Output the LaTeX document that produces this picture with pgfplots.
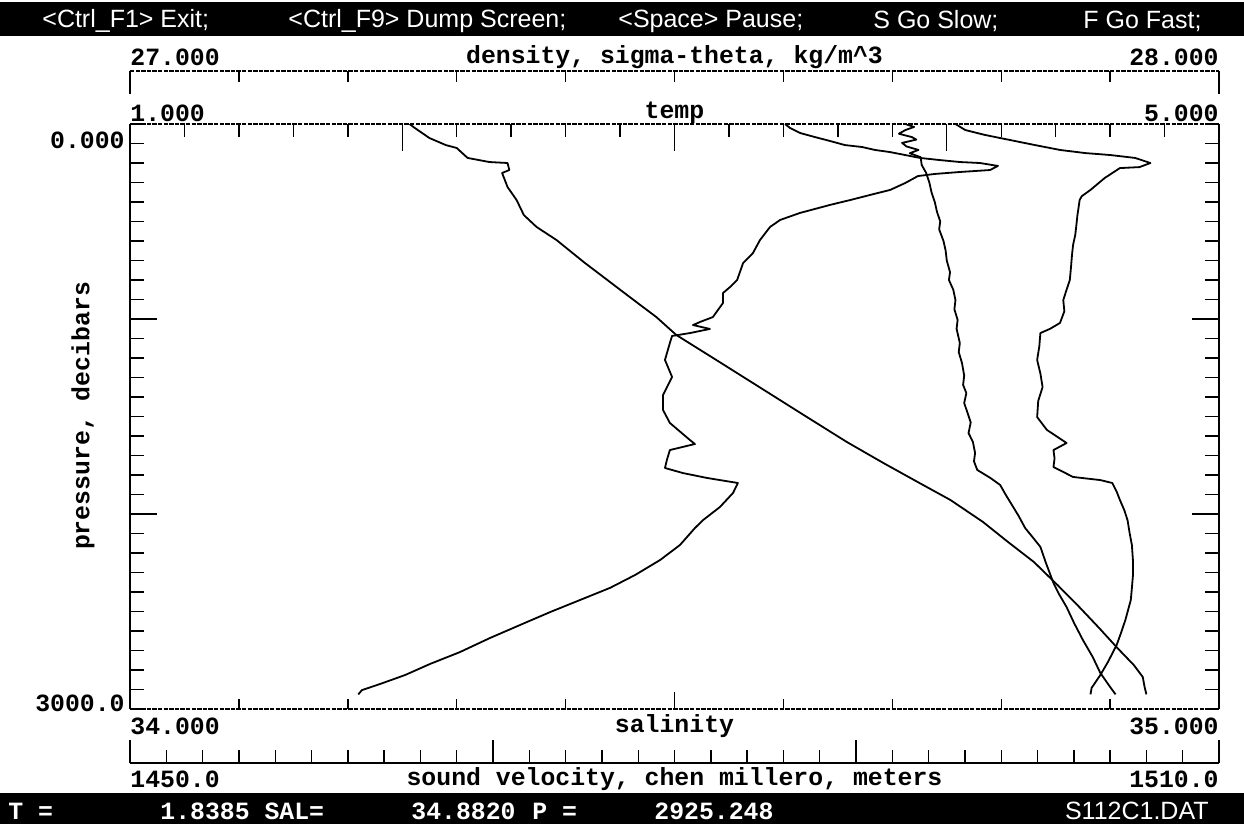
\documentclass[border=0pt]{standalone}
\usepackage{fontspec}
\setmainfont{Liberation Sans}
\newfontfamily\mono{Liberation Mono}
\usepackage{pgfplots}
\pgfplotsset{compat=1.18}
\newcommand\lab{\mono\bfseries\fontsize{12.4pt}{12.4pt}\selectfont}
\newcommand\barfont{\fontsize{12.5pt}{12.5pt}\selectfont}
\pgfplotsset{
  frame/.style={at={(337.25pt,-208.25pt)}, anchor=center, scale only axis,
    width=544.5pt, height=292.5pt, ymin=0, ymax=3000, y dir=reverse,
    tick align=inside, tick style={line width=0.7pt,black},
    axis line style={line width=0.7pt,black}},
  dotline/.style={axis line style={line width=0.6pt,black,dash pattern=on 2.2pt off 0.6pt}},
  curve/.style={black, line width=0.9pt, line join=round, mark=none},
  ptick/.style={ytick={0,100,...,3000}, yticklabels={}, major tick length=7pt,
    extra y ticks={1000,2000}, extra y tick labels={},
    extra y tick style={major tick length=13.5pt}}
}
\begin{document}
\begin{tikzpicture}
\fill[white] (0,0) rectangle (622pt,-412pt);
\fill[black] (0,-1pt) rectangle (622pt,-18pt);
\fill[black] (0,-396.5pt) rectangle (622pt,-412pt);

% pressure axis, left and right
\begin{axis}[frame, xmin=0, xmax=1, axis y line*=left, hide x axis, tick align=inside, ptick]
\end{axis}
\begin{axis}[frame, xmin=0, xmax=1, axis y line*=right, hide x axis, tick align=inside, ptick]
\end{axis}

% salinity
\begin{axis}[frame, dotline, xmin=34, xmax=35, axis x line*=bottom, hide y axis,
  tick align=inside,
  xtick={34.1,34.2,34.3,34.4,34.6,34.7,34.8,34.9}, xticklabels={},
  major tick length=5pt,
  extra x ticks={34.5}, extra x tick labels={},
  extra x tick style={major tick length=8.5pt}]
\addplot[curve] coordinates {
(34.758,0) (34.767,31) (34.785,56) (34.808,82) (34.831,108) (34.854,133)
(34.877,149) (34.900,159) (34.923,174) (34.937,200) (34.927,221) (34.909,226)
(34.895,277) (34.882,338) (34.874,370) (34.872,390) (34.871,430) (34.870,467)
(34.869,520) (34.868,569) (34.866,620) (34.865,672) (34.864,740) (34.863,800)
(34.860,850) (34.857,903) (34.858,960) (34.854,1020) (34.845,1050) (34.836,1072)
(34.835,1140) (34.833,1210) (34.836,1280) (34.838,1349) (34.834,1420) (34.833,1503)
(34.842,1569) (34.860,1636) (34.848,1672) (34.849,1715) (34.848,1759) (34.866,1810)
(34.891,1826) (34.902,1841) (34.906,1885) (34.909,1928) (34.913,1980) (34.916,2031)
(34.918,2100) (34.920,2159) (34.921,2240) (34.921,2313) (34.920,2380) (34.919,2441)
(34.914,2544) (34.910,2610) (34.906,2672) (34.898,2759) (34.891,2826) (34.883,2892)
(34.882,2925)};
\end{axis}

% temperature
\begin{axis}[frame, dotline, xmin=1, xmax=5, axis x line*=top, hide y axis,
  tick align=inside,
  xtick={1.2,1.4,1.6,1.8,2.2,2.4,2.6,2.8,3.2,3.4,3.6,3.8,4.2,4.4,4.6,4.8},
  xticklabels={}, major tick length=6.5pt,
  extra x ticks={2,3,4}, extra x tick labels={},
  extra x tick style={major tick length=13.5pt}]
\addplot[curve] coordinates {
(3.406,0) (3.424,20) (3.461,46) (3.516,67) (3.571,87) (3.626,108) (3.689,118)
(3.736,133) (3.792,144) (3.847,159) (3.902,174) (3.975,185) (4.049,195) (4.122,200)
(4.188,215) (4.159,236) (4.049,246) (3.957,256) (3.894,267) (3.847,303) (3.792,338)
(3.718,364) (3.645,390) (3.571,415) (3.461,456) (3.388,492) (3.351,528) (3.314,595)
(3.288,662) (3.252,713) (3.230,800) (3.204,836) (3.178,867) (3.178,918) (3.141,990)
(3.094,1015) (3.068,1031) (3.130,1051) (3.057,1072) (2.991,1087) (2.983,1123)
(2.965,1210) (2.991,1297) (2.958,1390) (2.958,1467) (2.983,1533) (3.057,1621)
(3.075,1641) (2.983,1672) (2.972,1723) (2.965,1764) (3.031,1790) (3.119,1815)
(3.167,1826) (3.233,1841) (3.215,1892) (3.167,1964) (3.105,2031) (3.075,2072)
(3.020,2159) (2.947,2236) (2.855,2313) (2.763,2379) (2.653,2441) (2.543,2503)
(2.433,2569) (2.322,2636) (2.212,2708) (2.102,2769) (2.010,2826) (1.918,2872)
(1.852,2903) (1.8385,2925)};
\end{axis}

% density (sigma-theta)
\begin{axis}[frame, xmin=27, xmax=28, hide axis]
\addplot[curve] coordinates {
(27.712,0) (27.720,15) (27.712,31) (27.706,50) (27.718,67) (27.722,80) (27.709,97)
(27.713,115) (27.724,133) (27.716,150) (27.726,170) (27.727,210) (27.731,250)
(27.734,300) (27.736,350) (27.739,400) (27.741,450) (27.744,500) (27.743,540)
(27.747,600) (27.749,650) (27.750,700) (27.753,760) (27.752,800) (27.756,850)
(27.758,903) (27.757,950) (27.760,1005) (27.759,1050) (27.762,1123) (27.761,1170)
(27.764,1226) (27.766,1290) (27.765,1338) (27.768,1380) (27.766,1431) (27.769,1480)
(27.772,1530) (27.770,1585) (27.774,1630) (27.776,1687) (27.775,1730) (27.778,1774)
(27.790,1815) (27.799,1851) (27.804,1900) (27.811,1964) (27.816,2010) (27.822,2072)
(27.829,2120) (27.836,2169) (27.841,2250) (27.848,2354) (27.853,2410) (27.860,2477)
(27.867,2560) (27.875,2646) (27.884,2733) (27.891,2815) (27.900,2887) (27.905,2925)};
\end{axis}

% sound velocity
\begin{axis}[frame, xmin=1450, xmax=1510, hide axis]
\addplot[curve] coordinates {
(1465.4,0) (1465.7,21) (1466.5,72) (1467.4,108) (1468.0,123) (1468.6,174)
(1469.8,195) (1470.8,200) (1470.9,236) (1470.5,251) (1470.8,323) (1471.3,390)
(1471.7,467) (1472.4,528) (1473.5,595) (1475.0,708) (1476.3,800) (1477.6,892)
(1479.0,990) (1480.1,1082) (1482.3,1210) (1485.1,1374) (1487.3,1503) (1489.5,1631)
(1491.5,1738) (1493.4,1836) (1495.2,1928) (1497.0,2041) (1498.3,2138) (1499.8,2246)
(1501.1,2364) (1502.2,2467) (1503.4,2585) (1504.4,2687) (1505.3,2774) (1505.8,2836)
(1505.9,2887) (1506.0,2925)};
\end{axis}

% density scale bar
\begin{axis}[at={(337.25pt,-41.25pt)}, anchor=center, scale only axis,
  width=544.5pt, height=11.5pt, xmin=27, xmax=28, ymin=0, ymax=1,
  axis x line*=top, hide y axis, tick align=inside,
  tick style={line width=0.7pt,black}, dotline,
  xtick={27.1,27.2,27.3,27.4,27.5,27.6,27.7,27.8,27.9}, xticklabels={},
  major tick length=5.5pt,
  extra x ticks={27,28}, extra x tick labels={},
  extra x tick style={major tick length=11.5pt}]
\end{axis}

% sound velocity scale bar
\begin{axis}[at={(337.25pt,-375.75pt)}, anchor=center, scale only axis,
  width=544.5pt, height=11.5pt, xmin=1450, xmax=1510, ymin=0, ymax=1,
  axis x line*=bottom, hide y axis, tick align=inside,
  tick style={line width=0.7pt,black}, axis line style={line width=0.7pt,black},
  xtick={1452,1454,...,1508}, xticklabels={},
  major tick length=6.5pt,
  extra x ticks={1450,1470,1490,1510}, extra x tick labels={},
  extra x tick style={major tick length=11.5pt}]
\end{axis}

% texts
\begin{scope}[every node/.style={inner sep=0pt}]
\node[anchor=west] at (65pt,-28.5pt) {\lab 27.000};
\node at (337.25pt,-28.5pt) {\lab density, sigma-theta, kg/m\^{}3};
\node[anchor=east] at (609.5pt,-28.5pt) {\lab 28.000};
\node[anchor=west] at (65pt,-56.5pt) {\lab 1.000};
\node at (337.25pt,-56.5pt) {\lab temp};
\node[anchor=east] at (609.5pt,-56.5pt) {\lab 5.000};
\node[anchor=east] at (62.5pt,-70pt) {\lab 0.000};
\node[anchor=east] at (62.5pt,-351.5pt) {\lab 3000.0};
\node[rotate=90] at (41.5pt,-208pt) {\lab pressure, decibars};
\node[anchor=west] at (65pt,-363pt) {\lab 34.000};
\node at (337.25pt,-363pt) {\lab salinity};
\node[anchor=east] at (609.5pt,-363pt) {\lab 35.000};
\node[anchor=west] at (65pt,-389.5pt) {\lab 1450.0};
\node at (337.25pt,-389.5pt) {\lab sound velocity, chen millero, meters};
\node[anchor=east] at (609.5pt,-389.5pt) {\lab 1510.0};
% top bar
\node[anchor=west,white] at (21pt,-10.5pt) {\barfont <Ctrl\_F1> Exit;};
\node[anchor=west,white] at (144pt,-10.5pt) {\barfont <Ctrl\_F9> Dump Screen;};
\node[anchor=west,white] at (309pt,-10.5pt) {\barfont <Space> Pause;};
\node[anchor=west,white] at (436.5pt,-10.5pt) {\barfont S Go Slow;};
\node[anchor=west,white] at (541.5pt,-10.5pt) {\barfont F Go Fast;};
% bottom bar
\node[anchor=west,white] at (4pt,-405.5pt) {\lab T =};
\node[anchor=west,white] at (80pt,-405.5pt) {\lab 1.8385 SAL=};
\node[anchor=west,white] at (205.5pt,-405.5pt) {\lab 34.8820};
\node[anchor=west,white] at (266pt,-405.5pt) {\lab P =};
\node[anchor=west,white] at (327pt,-405.5pt) {\lab 2925.248};
\node[anchor=east,white] at (604.5pt,-405.5pt) {\barfont S112C1.DAT};
\end{scope}
\end{tikzpicture}
\end{document}
